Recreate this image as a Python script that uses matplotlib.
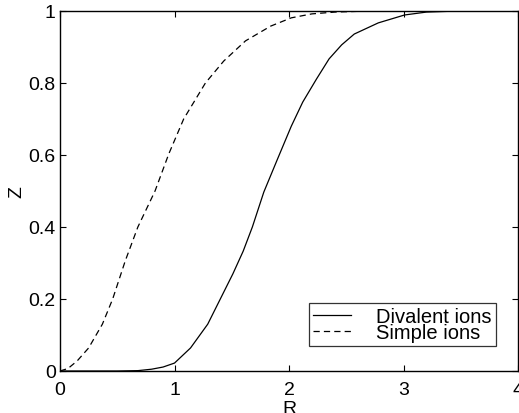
import matplotlib
matplotlib.use("Agg")
import matplotlib.pyplot as plt

plt.rcParams["font.family"] = ["Liberation Sans", "DejaVu Sans"]

# values
divalent_r = [0.0, 0.5, 0.68, 0.8, 0.9, 1.0, 1.14, 1.29, 1.40, 1.51, 1.60, 1.68,
              1.78, 1.90, 2.02, 2.12, 2.24, 2.35, 2.46, 2.57, 2.78, 3.01, 3.2, 3.48]
divalent_z = [0.0, 0.0, 0.001, 0.005, 0.011, 0.022, 0.064, 0.13, 0.2, 0.27, 0.333, 0.4,
              0.497, 0.589, 0.68, 0.747, 0.811, 0.867, 0.906, 0.936, 0.967, 0.989,
              0.997, 1.0]

simple_r = [0.0, 0.07, 0.15, 0.25, 0.37, 0.46, 0.57, 0.68, 0.83, 0.95, 1.08,
            1.27, 1.43, 1.62, 1.84, 2.02, 2.2, 2.4, 2.7, 3.0, 3.5]
simple_z = [0.0, 0.007, 0.028, 0.064, 0.13, 0.2, 0.306, 0.4, 0.5, 0.603, 0.7,
            0.8, 0.861, 0.917, 0.958, 0.981, 0.992, 0.997, 1.0, 1.0, 1.0]

x_ticks = [0, 1, 2, 3, 4]
y_ticks = [0, 0.2, 0.4, 0.6, 0.8, 1]
y_tick_labels = ["0", "0.2", "0.4", "0.6", "0.8", "1"]

fig = plt.figure(figsize=(5.19, 4.14), dpi=100)
ax = fig.add_axes([60 / 519, 1 - 372 / 414, 458 / 519, 360 / 414])

ax.plot(divalent_r, divalent_z, color="black", lw=0.9, label="Divalent ions")
ax.plot(simple_r, simple_z, color="black", lw=0.9, linestyle=(0, (5, 3.3)),
        label="Simple ions")

ax.set_xlim(0, 4)
ax.set_ylim(0, 1)
ax.set_xticks(x_ticks)
ax.set_yticks(y_ticks)
ax.set_yticklabels(y_tick_labels)
ax.tick_params(direction="in", length=4, width=0.8, top=True, right=True,
               labelsize=14)
ax.tick_params(axis="x", pad=7)
ax.tick_params(axis="y", pad=3)
for spine in ax.spines.values():
    spine.set_linewidth(1.0)

ax.set_xlabel("R", fontsize=14, labelpad=1.5)
ax.set_ylabel("Z", fontsize=14, labelpad=2)

leg = ax.legend(loc="lower right", bbox_to_anchor=(0.952, 0.069), fontsize=14.5,
                frameon=True, fancybox=False, handlelength=1.9,
                handletextpad=1.25, labelspacing=-0.15, borderpad=0.2,
                borderaxespad=0)
leg.get_frame().set_edgecolor("black")
leg.get_frame().set_linewidth(0.9)

fig.savefig("out.png", dpi=100)
